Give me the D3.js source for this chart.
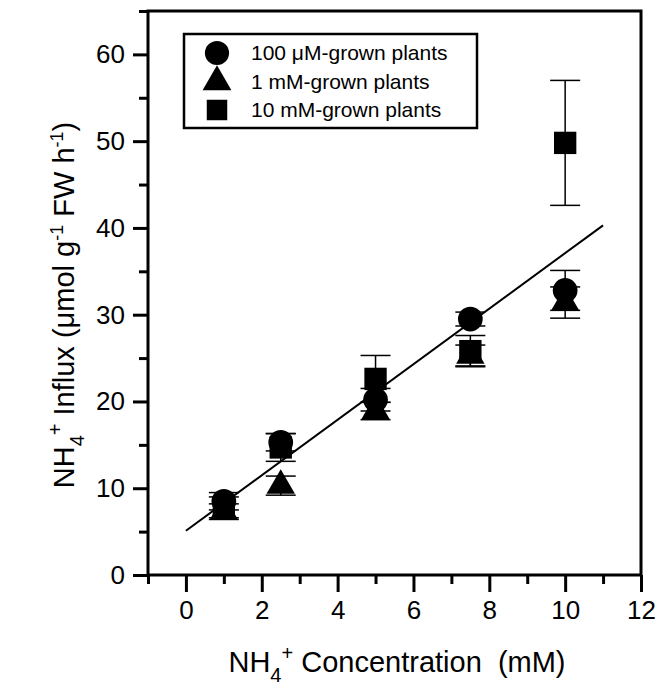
<!DOCTYPE html>
<html><head><meta charset="utf-8">
<script src="https://cdn.jsdelivr.net/npm/d3@7"></script>
<style>
body{margin:0;background:#fff;}
text{font-family:"Liberation Sans",Arial,Helvetica,sans-serif;fill:#000;white-space:pre;}
</style></head>
<body><svg id="chart" width="659" height="700"></svg>
<script>
// ---- data ----
const concentrations = [1, 2.5, 5, 7.5, 10];
const influx100uM = [8.5, 15.3, 20.2, 29.5, 32.8];
const err100uM    = [1.0, 1.0, 1.3, 0.8, 2.3];
const influx1mM   = [7.3, 10.3, 18.9, 25.3, 31.4];
const err1mM      = [0.9, 1.1, 1.0, 1.2, 1.8];
const influx10mM  = [7.8, 14.7, 22.6, 25.8, 49.8];
const err10mM     = [1.2, 1.6, 2.7, 1.8, 7.2];
const fitX = [0, 11];
const fitY = [5.1, 40.3];
const seriesNames = ["100 μM-grown plants", "1 mM-grown plants", "10 mM-grown plants"];
const xMajorTicks = [0, 2, 4, 6, 8, 10, 12];
const xMinorTicks = [-1, 1, 3, 5, 7, 9, 11];
const yMajorTicks = [0, 10, 20, 30, 40, 50, 60];
const yMinorTicks = [5, 15, 25, 35, 45, 55, 65];

const svg = d3.select("#chart");
const L = 148, R = 641, T = 11, B = 575;
const x = d3.scaleLinear().domain([-1, 12]).range([L, R]);
const y = d3.scaleLinear().domain([0, 65]).range([B, T]);

// axes
const xMaj = svg.append("g").attr("transform", `translate(0,${B})`)
  .call(d3.axisBottom(x).tickValues(xMajorTicks).tickSize(17).tickPadding(5).tickFormat(d3.format("d")));
const xMin = svg.append("g").attr("transform", `translate(0,${B})`)
  .call(d3.axisBottom(x).tickValues(xMinorTicks).tickSize(9).tickFormat(""));
const yMaj = svg.append("g").attr("transform", `translate(${L},0)`)
  .call(d3.axisLeft(y).tickValues(yMajorTicks).tickSize(15).tickPadding(8).tickFormat(d3.format("d")));
const yMin = svg.append("g").attr("transform", `translate(${L},0)`)
  .call(d3.axisLeft(y).tickValues(yMinorTicks).tickSize(9).tickFormat(""));
[xMaj, xMin, yMaj, yMin].forEach(g => {
  g.select(".domain").remove();
  g.selectAll(".tick line").attr("stroke", "#000").attr("stroke-width", 3);
  g.selectAll(".tick text").attr("font-size", 26).attr("font-family", "Liberation Sans, Arial, sans-serif").attr("fill", "#000");
});
xMaj.selectAll(".tick text").attr("dy", "0.85em");
// frame
svg.append("rect").attr("x", L).attr("y", T).attr("width", R - L).attr("height", B - T)
  .attr("fill", "none").attr("stroke", "#000").attr("stroke-width", 3);

// series
const series = [
  {vals: influx100uM, errs: err100uM, sym: d3.symbolCircle, size: 480},
  {vals: influx1mM, errs: err1mM, sym: d3.symbolTriangle, size: 350},
  {vals: influx10mM, errs: err10mM, sym: d3.symbolSquare, size: 500}
];
const cap = 15;
series.forEach(s => {
  const g = svg.append("g");
  concentrations.forEach((c, i) => {
    const cx = x(c), y1 = y(s.vals[i] + s.errs[i]), y0 = y(s.vals[i] - s.errs[i]);
    g.append("line").attr("x1", cx).attr("x2", cx).attr("y1", y1).attr("y2", y0).attr("stroke", "#000").attr("stroke-width", 1.5);
    [y1, y0].forEach(yy => g.append("line").attr("x1", cx - cap).attr("x2", cx + cap).attr("y1", yy).attr("y2", yy).attr("stroke", "#000").attr("stroke-width", 1.5));
  });
});
// fit line
svg.append("line").attr("x1", x(fitX[0])).attr("y1", y(fitY[0])).attr("x2", x(fitX[1])).attr("y2", y(fitY[1]))
  .attr("stroke", "#000").attr("stroke-width", 2);
series.forEach(s => {
  svg.append("g").selectAll("path").data(concentrations).join("path")
    .attr("transform", (c, i) => `translate(${x(c)},${y(s.vals[i])})`)
    .attr("d", d3.symbol().type(s.sym).size(s.size)).attr("fill", "#000");
});

// legend
const lg = svg.append("g");
lg.append("rect").attr("x", 184).attr("y", 34).attr("width", 293).attr("height", 94)
  .attr("fill", "#fff").attr("stroke", "#000").attr("stroke-width", 2.5);
const rowsY = [53, 82, 110];
const legSizes = [460, 360, 420];
seriesNames.forEach((n, i) => {
  lg.append("path").attr("transform", `translate(217,${rowsY[i]})`)
    .attr("d", d3.symbol().type(series[i].sym).size(legSizes[i])).attr("fill", "#000");
  lg.append("text").attr("x", 251).attr("y", rowsY[i]).attr("dy", "0.35em").attr("font-size", 21).text(n);
});

// axis titles
const xt = svg.append("text").attr("x", 397).attr("y", 672).attr("text-anchor", "middle").attr("font-size", 29);
xt.append("tspan").text("NH");
xt.append("tspan").attr("font-size", 20).attr("dy", 10).text("4");
xt.append("tspan").attr("font-size", 20).attr("dy", -22).text("+");
xt.append("tspan").attr("dy", 12).text(" Concentration\u00a0\u00a0(mM)");

const yt = svg.append("text").attr("transform", "translate(74,305) rotate(-90)").attr("text-anchor", "middle").attr("font-size", 29);
yt.append("tspan").text("NH");
yt.append("tspan").attr("font-size", 20).attr("dy", 10).text("4");
yt.append("tspan").attr("font-size", 20).attr("dy", -22).text("+");
yt.append("tspan").attr("dy", 12).text(" Influx (μmol g");
yt.append("tspan").attr("font-size", 18).attr("dy", -11).text("-1");
yt.append("tspan").attr("dy", 11).text(" FW h");
yt.append("tspan").attr("font-size", 18).attr("dy", -11).text("-1");
yt.append("tspan").attr("dy", 11).text(")");
</script></body></html>
